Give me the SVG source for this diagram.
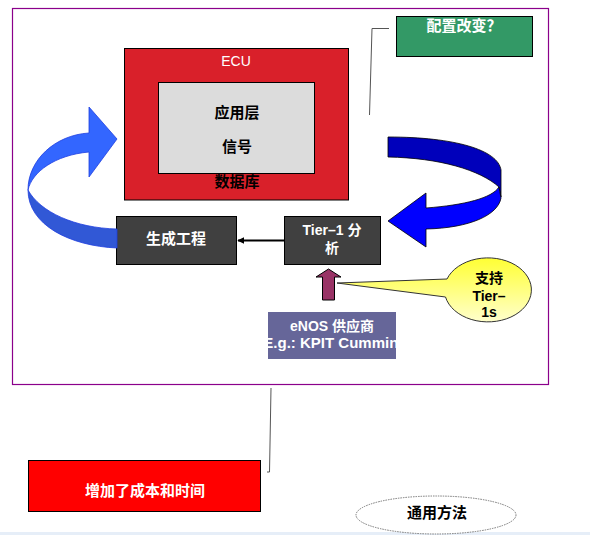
<svg xmlns="http://www.w3.org/2000/svg" width="590" height="535" viewBox="0 0 590 535">
<style>
.t{font-family:"Liberation Sans","Noto Sans CJK SC",sans-serif;font-weight:bold;font-size:15px;text-anchor:middle}
.w{fill:#ffffff}
.k{fill:#000000}
.dark{fill:#404040;stroke:#000;stroke-width:1}
.call{fill:none;stroke:#555;stroke-width:1}
</style>
<defs>
<linearGradient id="yg" x1="0" y1="0" x2="0" y2="1">
<stop offset="0" stop-color="#FFFF33"/>
<stop offset="1" stop-color="#FFFFCC"/>
</linearGradient>
<clipPath id="enosClip"><rect x="268" y="312" width="128" height="47"/></clipPath>
<marker id="ah" viewBox="0 0 10 10" refX="9" refY="5" markerWidth="7" markerHeight="7" orient="auto-start-reverse" markerUnits="userSpaceOnUse">
<path d="M0,0 L10,5 L0,10 Z" fill="#000"/>
</marker>
</defs>
<rect x="0" y="0" width="590" height="535" fill="#ffffff"/>
<rect x="0" y="532" width="590" height="3" fill="#E6EEF8"/>

<g id="frame">
<rect x="12.5" y="8.5" width="536" height="376" fill="none" stroke="#8B008B" stroke-width="1.2"/>
</g>

<g id="ecu">
<rect x="124.5" y="48.5" width="224" height="151.5" fill="#D9202A" stroke="#000" stroke-width="1"/>
<rect x="158.5" y="82.5" width="156" height="91" fill="#DCDCDC" stroke="#000" stroke-width="1"/>
<text x="236" y="66" class="t w" style="font-weight:normal;font-size:14px">ECU</text>
<text x="237" y="118" class="t k">应用层</text>
<text x="237" y="152" class="t k">信号</text>
<text x="237" y="187" class="t k">数据库</text>
</g>

<g id="config">
<rect x="396.5" y="16.5" width="136" height="40" fill="#339966" stroke="#000" stroke-width="1"/>
<text x="464" y="31" class="t w">配置改变？</text>
</g>

<g id="gen">
<rect x="116.5" y="216.5" width="120" height="48" class="dark"/>
<text x="176" y="244" class="t w">生成工程</text>
</g>

<g id="tier1">
<rect x="284.5" y="216.5" width="96" height="48" class="dark"/>
<text x="332" y="234.5" class="t w" style="font-size:14px">Tier–1 分</text>
<text x="332" y="253" class="t w" style="font-size:14px">析</text>
</g>

<g id="enos">
<rect x="268" y="312" width="128" height="47" fill="#666699"/>
<g clip-path="url(#enosClip)">
<text x="332" y="331" class="t w" style="font-size:14px">eNOS 供应商</text>
<text x="335" y="347.5" class="t w" style="font-size:15px">E.g.: KPIT Cummins</text>
</g>
</g>

<g id="support">
<path d="M337,283 L447,279 A43.5,32 0 1 1 445.5,297 Z" fill="url(#yg)" stroke="#333" stroke-width="1"/>
<text x="489" y="283" class="t k" style="font-size:14px">支持</text>
<text x="489" y="301" class="t k" style="font-size:14px">Tier–</text>
<text x="489" y="317" class="t k" style="font-size:14px">1s</text>
</g>

<g id="cost">
<rect x="28.5" y="460.5" width="232" height="51" fill="#FF0000" stroke="#000" stroke-width="1"/>
<text x="145" y="496" class="t w">增加了成本和时间</text>
</g>

<g id="generic">
<ellipse cx="436" cy="515" rx="80" ry="19" fill="#ffffff" stroke="#777" stroke-width="1" stroke-dasharray="1.5,1"/>
<text x="437" y="518" class="t k">通用方法</text>
</g>

<g id="connectors">
<line x1="284" y1="240.5" x2="238" y2="240.5" stroke="#000" stroke-width="2" marker-end="url(#ah)"/>
<path d="M322.5,300 L322.5,277 L316,277 L328.5,269 L341,277 L334.5,277 L334.5,300 Z" fill="#993366" stroke="#000" stroke-width="1"/>
<polyline points="389,28.5 372,28.5 369.5,115" class="call"/>
<polyline points="271,388 269.5,472 267,472" class="call"/>
<path d="M28,190 C28,225 70,246 117,248 L117,229 C75,228 40,212 28,190 Z" fill="#3158D6" stroke="#1f3fe0" stroke-width="0.8"/>
<path d="M89,133 L89,107 L117,139 L89,177 L89,152 C55,155 32,172 28,190 C28,160 55,135 89,133 Z" fill="#3366FF" stroke="#1f3fe0" stroke-width="0.8"/>
<path d="M388,137 C455,137 498,150 501,170 L501,197 L499,187 C480,170 440,158 388,157 Z" fill="#0000BB" stroke="#000" stroke-width="0.8"/>
<path d="M499,187 L501,198 C498,215 470,228 426,229 L426,247 L388,221 L426,193 L426,208 C465,205 492,198 499,187 Z" fill="#0000FF" stroke="#000" stroke-width="0.8"/>
</g>
</svg>
